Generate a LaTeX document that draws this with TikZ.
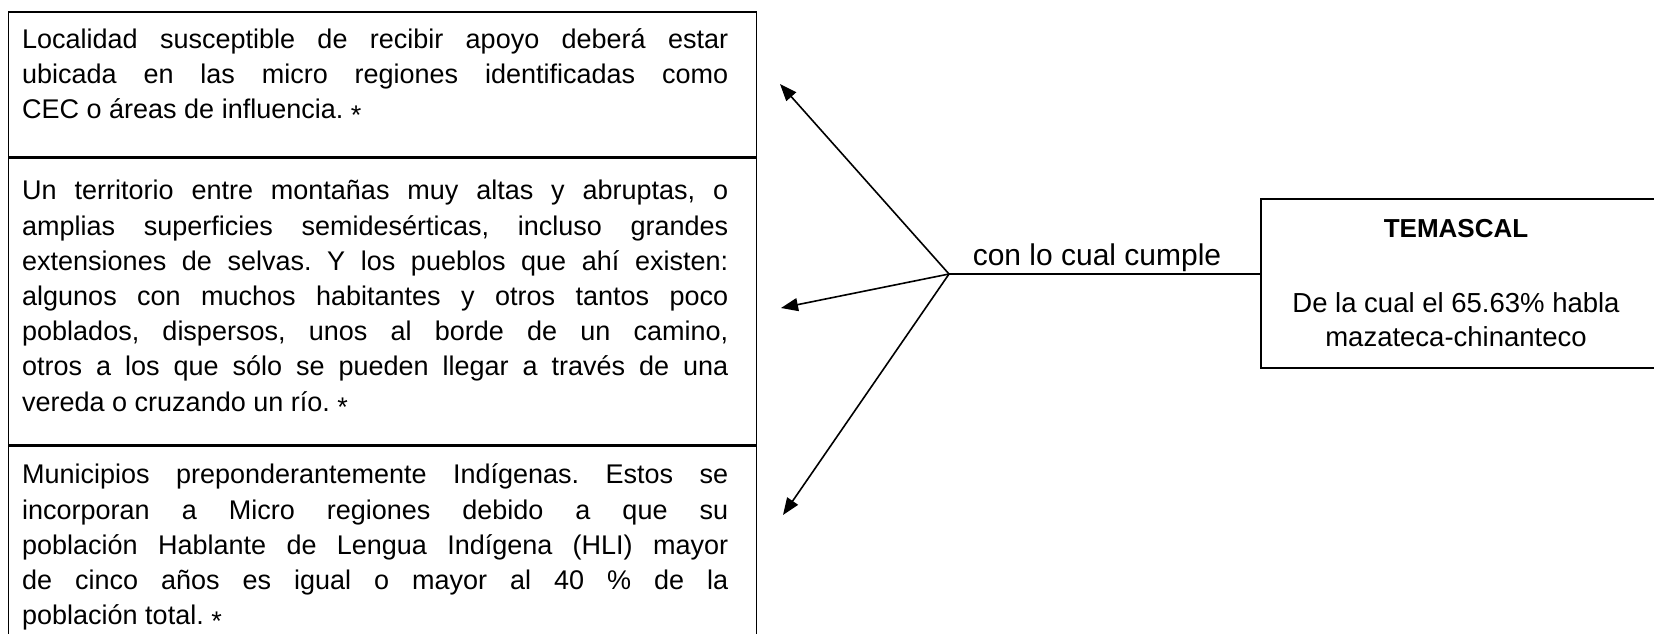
\documentclass[tikz,border=0pt]{standalone}
\usepackage{fontspec}
\setmainfont{Liberation Sans}
\usetikzlibrary{arrows.meta,calc}
\frenchspacing
\newlength{\tw}\setlength{\tw}{706pt}
\newcommand{\jl}[1]{\makebox[\tw][s]{\strut #1}}
\newcommand{\lastln}[1]{\strut #1}
\newcommand{\stari}{\raisebox{-0.22em}{*}}
\begin{document}
\begin{tikzpicture}[x=1pt,y=-1pt,
  box/.style={draw, line width=1.6pt, minimum width=748pt, anchor=north west, inner sep=0pt},
  txt/.style={anchor=north west, inner sep=0pt, align=left, font=\fontsize{27}{35.2}\selectfont\frenchspacing},
  rtxt/.style={inner sep=0pt, align=center, font=\fontsize{27.5}{34}\selectfont},
  arr/.style={line width=1.6pt, -{Triangle[length=17pt,width=13pt]}}]
\useasboundingbox (0,0) rectangle (1654,633);
% left stacked boxes
\node[box, minimum height=145pt] (b1) at (7.5,11) {};
\node[box, minimum height=286pt] (b2) at (b1.south west) {};
\node[box, minimum height=230pt] (b3) at (b2.south west) {};
% texts
\node[txt] (p1) at (22,23.4) {\jl{Localidad susceptible de recibir apoyo deberá estar}\\
\jl{ubicada en las micro regiones identificadas como}\\
\lastln{CEC o áreas de influencia. \stari}};
\node[txt] (p2) at (22,175) {\jl{Un territorio entre montañas muy altas y abruptas, o}\\
\jl{amplias superficies semidesérticas, incluso grandes}\\
\jl{extensiones de selvas. Y los pueblos que ahí existen:}\\
\jl{algunos con muchos habitantes y otros tantos poco}\\
\jl{poblados, dispersos, unos al borde de un camino,}\\
\jl{otros a los que sólo se pueden llegar a través de una}\\
\lastln{vereda o cruzando un río. \stari}};
\node[txt] (p3) at (22,459) {\jl{Municipios preponderantemente Indígenas. Estos se}\\
\jl{incorporan a Micro regiones debido a que su}\\
\jl{población Hablante de Lengua Indígena (HLI) mayor}\\
\jl{de cinco años es igual o mayor al 40 \% de la}\\
\lastln{población total. \stari}};
% right box
\node[draw, line width=1.6pt, anchor=north west, minimum width=440pt, minimum height=169pt, inner sep=0pt] (tb) at (1260,198) {};
\node[rtxt, font=\fontsize{26}{33}\selectfont\bfseries, anchor=base] (tt) at (1456,237) {TEMASCAL};
\node[rtxt, anchor=base] (td) at (1456,346) {De la cual el 65.63\% habla\\ mazateca-chinanteco};
% connectors
\coordinate (c) at (949,274);
\coordinate (a1) at (780,84);
\coordinate (a2) at (781,308);
\coordinate (a3) at (783,515);
\draw[line width=1.6pt] (c) -- (c -| tb.west);
\node[rtxt, font=\fontsize{30}{34}\selectfont, anchor=base] (lab) at (1097,265) {con lo cual cumple};
\draw[arr] (c) -- (a1);
\draw[arr] (c) -- (a2);
\draw[arr] (c) -- (a3);
\end{tikzpicture}
\end{document}
